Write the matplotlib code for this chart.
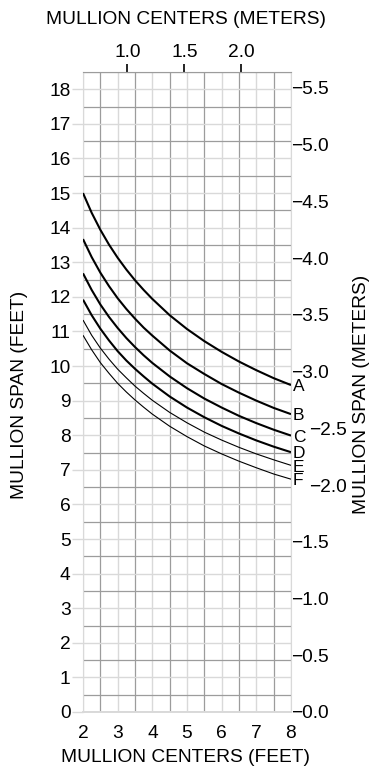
import matplotlib
matplotlib.use("Agg")
import matplotlib.pyplot as plt
import numpy as np

plt.rcParams['font.family'] = ['Liberation Sans', 'DejaVu Sans']

# Data (feet)
centers_ft = [2.0, 2.25, 2.5, 2.75, 3.0, 3.25, 3.5, 3.75, 4.0, 4.5, 5.0, 5.5, 6.0, 6.5, 7.0, 7.5, 8.0]
span_A = [15.00, 14.43, 13.94, 13.51, 13.13, 12.79, 12.48, 12.20, 11.94, 11.47, 11.07, 10.72, 10.41, 10.13, 9.88, 9.65, 9.45]
span_B = [13.67, 13.15, 12.70, 12.31, 11.96, 11.65, 11.37, 11.11, 10.88, 10.45, 10.08, 9.77, 9.48, 9.23, 9.00, 8.79, 8.61]
span_C = [12.68, 12.20, 11.78, 11.42, 11.10, 10.81, 10.55, 10.31, 10.09, 9.70, 9.36, 9.06, 8.80, 8.56, 8.35, 8.16, 7.99]
span_D = [11.92, 11.47, 11.08, 10.74, 10.43, 10.16, 9.92, 9.70, 9.49, 9.12, 8.80, 8.52, 8.27, 8.05, 7.85, 7.67, 7.51]
span_E = [11.33, 10.89, 10.52, 10.20, 9.91, 9.66, 9.42, 9.21, 9.01, 8.66, 8.36, 8.09, 7.86, 7.65, 7.46, 7.29, 7.13]
span_F = [10.89, 10.47, 10.10, 9.79, 9.50, 9.25, 9.02, 8.81, 8.61, 8.26, 7.96, 7.69, 7.46, 7.25, 7.06, 6.88, 6.73]
curve_names = ['A', 'B', 'C', 'D', 'E', 'F']
curves = [span_A, span_B, span_C, span_D, span_E, span_F]
widths = [1.5, 1.5, 1.5, 1.5, 0.8, 0.8]

x_ticks_ft = [2, 3, 4, 5, 6, 7, 8]
y_ticks_ft = list(range(0, 19))
top_ticks_m = [1.0, 1.5, 2.0]
right_ticks_m = [0.0, 0.5, 1.0, 1.5, 2.0, 2.5, 3.0, 3.5, 4.0, 4.5, 5.0, 5.5]
shifted_right_ticks = [2.0, 2.5]

FT2M = 0.3048
LIGHT = '#d9d9d9'
DARK = '#9c9c9c'
FS = 13.8

fig = plt.figure(figsize=(3.71, 7.68), dpi=100)
ax = fig.add_axes([83/371, 56/768, (291-83)/371, (712-72)/768])
ax.set_xlim(2, 8)
ax.set_ylim(0, 18.5)

ax.set_xticks(x_ticks_ft)
ax.set_yticks(y_ticks_ft)
ax.set_xticks(np.arange(2.5, 8, 1.0), minor=True)
ax.set_yticks(np.arange(0.5, 18.6, 1.0), minor=True)
ax.grid(which='major', color=LIGHT, linewidth=1.0)
ax.grid(which='minor', color=DARK, linewidth=0.9)
ax.set_axisbelow(True)
ax.tick_params(which='minor', length=0)
ax.tick_params(axis='x', which='major', length=0, pad=9, labelsize=FS)
ax.tick_params(axis='y', which='major', length=8, width=1.0, color=LIGHT, pad=1, labelsize=FS)
for s in ['left', 'right', 'bottom']:
    ax.spines[s].set_color(LIGHT)
ax.spines['top'].set_color(DARK)
ax.spines['bottom'].set_linewidth(1.4)

for name, ys, lw in zip(curve_names, curves, widths):
    ax.plot(centers_ft, ys, color='black', linewidth=lw, solid_joinstyle='round',
            solid_capstyle='butt', zorder=3)
    ax.text(8.05, ys[-1] - 0.05, name, ha='left', va='center', fontsize=12.5, clip_on=False)

top = ax.secondary_xaxis('top', functions=(lambda v: v * FT2M, lambda v: v / FT2M))
top.set_xticks(top_ticks_m)
top.set_xticklabels([f'{v:.1f}' for v in top_ticks_m])
top.tick_params(length=6, width=1.2, color='black', pad=2, labelsize=FS)
top.spines['top'].set_visible(False)

right = ax.secondary_yaxis('right', functions=(lambda v: v * FT2M, lambda v: v / FT2M))
right.set_yticks(right_ticks_m)
right.set_yticklabels([f'\u2212{v:.1f}' for v in right_ticks_m])
right.tick_params(length=0, pad=0, labelsize=FS)
right.spines['right'].set_visible(False)
for tick, v in zip(right.yaxis.get_major_ticks(), right_ticks_m):
    if v in shifted_right_ticks:
        tick.set_pad(13)

fig.text(0.5, 1 - 19/768, 'MULLION CENTERS (METERS)', ha='center', va='center', fontsize=FS)
fig.text(0.5, 1 - 758/768, 'MULLION CENTERS (FEET)', ha='center', va='center', fontsize=FS)
fig.text(20/371, 1 - 395/768, 'MULLION SPAN (FEET)', ha='center', va='center', rotation=90, fontsize=FS)
fig.text(362/371, 1 - 394/768, 'MULLION SPAN (METERS)', ha='center', va='center', rotation=90, fontsize=FS)

fig.savefig('out.png', dpi=100)
